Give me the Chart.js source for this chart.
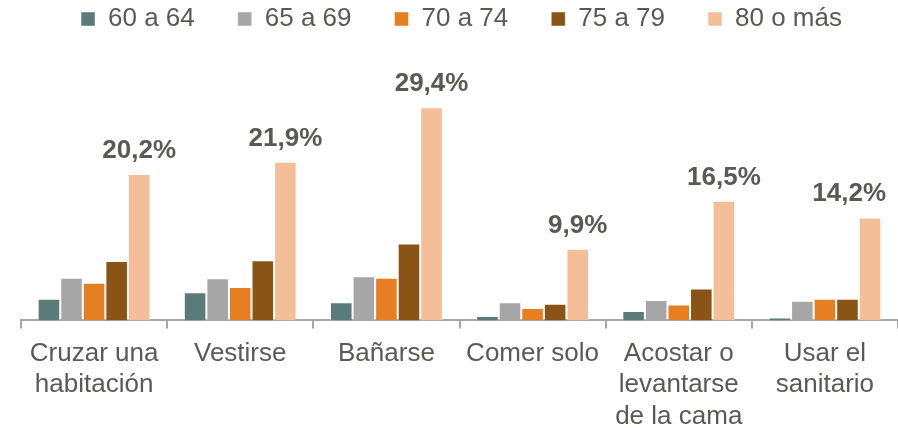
<!DOCTYPE html>
<html>
<head>
<meta charset="utf-8">
<script src="https://cdn.jsdelivr.net/npm/chart.js@4/dist/chart.umd.min.js"></script>
<style>
  html, body { margin: 0; padding: 0; background: #fff; }
  #wrap { width: 898px; height: 428px; position: relative; }
</style>
</head>
<body>
<div id="wrap"><canvas id="chart"></canvas></div>
<script>
// categories (one array per wrapped label)
const categories = [
  ['Cruzar una', 'habitación'],
  ['Vestirse'],
  ['Bañarse'],
  ['Comer solo'],
  ['Acostar o', 'levantarse', 'de la cama'],
  ['Usar el', 'sanitario']
];
const seriesNames = ['60 a 64', '65 a 69', '70 a 74', '75 a 79', '80 o más'];

// values in %
const age60to64 = [3.0, 3.9, 2.5, 0.6, 1.3, 0.4];
const age65to69 = [5.9, 5.8, 6.1, 2.5, 2.8, 2.7];
const age70to74 = [5.2, 4.6, 5.9, 1.7, 2.2, 3.0];
const age75to79 = [8.2, 8.3, 10.6, 2.3, 4.4, 3.0];
const age80plus = [20.2, 21.9, 29.4, 9.9, 16.5, 14.2];

const colors = ['#5a7b7a', '#a6a6a6', '#e67e22', '#8b5417', '#f4be99'];
const textColor = '#5a5a52';
const fontFamily = '"Liberation Sans", Arial, sans-serif';

// labels above the "80 o más" bars only, kept inside the canvas
const topLabels = {
  id: 'topLabels',
  afterDatasetsDraw(chart) {
    const ctx = chart.ctx;
    const meta = chart.getDatasetMeta(4);
    ctx.save();
    ctx.font = 'bold 26px ' + fontFamily;
    ctx.fillStyle = textColor;
    ctx.textAlign = 'center';
    ctx.textBaseline = 'alphabetic';
    meta.data.forEach((bar, i) => {
      const txt = age80plus[i].toFixed(1).replace('.', ',') + '%';
      const w = ctx.measureText(txt).width;
      const x = Math.min(bar.x, chart.width - 12 - w / 2);
      ctx.fillText(txt, x, bar.y - 16);
    });
    ctx.restore();
  }
};

const allSeries = [age60to64, age65to69, age70to74, age75to79, age80plus];

new Chart(document.getElementById('chart'), {
  type: 'bar',
  data: {
    labels: categories,
    datasets: allSeries.map((vals, i) => ({
      label: seriesNames[i],
      data: vals,
      backgroundColor: colors[i],
      borderColor: 'rgba(255,255,255,0.45)',
      borderWidth: 1,
      categoryPercentage: 0.772,
      barPercentage: 1
    }))
  },
  options: {
    responsive: true,
    maintainAspectRatio: false,
    animation: false,
    layout: { padding: { top: -37, left: 21, right: -4, bottom: -14 } },
    plugins: {
      tooltip: { enabled: false },
      legend: {
        position: 'top',
        labels: {
          boxWidth: 14,
          boxHeight: 14,
          padding: 43,
          color: textColor,
          font: { family: fontFamily, size: 26 }
        }
      }
    },
    scales: {
      x: {
        grid: {
          offset: true,
          drawOnChartArea: false,
          drawTicks: true,
          tickLength: 8,
          color: '#a6a6a6',
          lineWidth: 2
        },
        border: { display: true, color: '#a6a6a6', width: 2 },
        ticks: {
          color: textColor,
          padding: 10,
          maxRotation: 0,
          autoSkip: false,
          font: { family: fontFamily, size: 26 }
        }
      },
      y: {
        display: false,
        min: 0,
        max: 38.4
      }
    }
  },
  plugins: [topLabels]
});
</script>
</body>
</html>
